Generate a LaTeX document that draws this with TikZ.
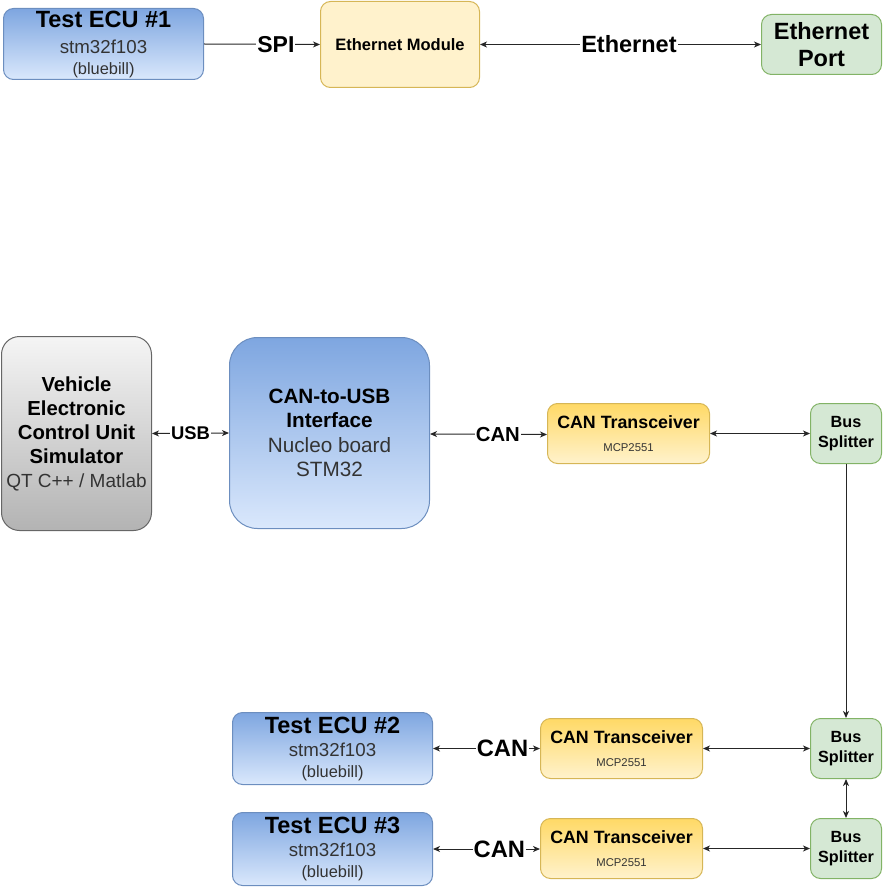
\documentclass[tikz,border=0pt]{standalone}
\usepackage{fontspec}
\setmainfont{Liberation Sans}
\usetikzlibrary{arrows.meta}
\definecolor{bluetop}{HTML}{7EA6E0}
\definecolor{bluebot}{HTML}{DAE8FC}
\definecolor{bluestroke}{HTML}{6C8EBF}
\definecolor{graytop}{HTML}{F5F5F5}
\definecolor{graybot}{HTML}{B3B3B3}
\definecolor{graystroke}{HTML}{666666}
\definecolor{yeltop}{HTML}{FFD966}
\definecolor{yelbot}{HTML}{FFF2CC}
\definecolor{yelfill}{HTML}{FFF2CC}
\definecolor{yelstroke}{HTML}{D6B656}
\definecolor{grnfill}{HTML}{D5E8D4}
\definecolor{grnstroke}{HTML}{82B366}
\definecolor{subtext}{HTML}{333333}
\newcommand{\fs}[1]{\fontsize{#1}{#1}\selectfont}
\tikzset{
  box/.style={anchor=north west, inner sep=0pt, align=center, line width=1pt, rounded corners=10pt},
  bskip/.style={font=\fontsize{10}{#1}\selectfont},
  bluebox/.style={box, draw=bluestroke, top color=bluetop, bottom color=bluebot},
  graybox/.style={box, draw=graystroke, top color=graytop, bottom color=graybot},
  yelbox/.style={box, draw=yelstroke, top color=yeltop, bottom color=yelbot},
  yelplain/.style={box, draw=yelstroke, fill=yelfill},
  grnbox/.style={box, draw=grnstroke, fill=grnfill},
  conn/.style={line width=1pt, draw=black!85, -{Stealth[length=7pt,width=6pt,inset=2pt]}},
  biconn/.style={line width=1pt, draw=black!85, {Stealth[length=7pt,width=6pt,inset=2pt]}-{Stealth[length=7pt,width=6pt,inset=2pt]}},
  lbl/.style={fill=white, inner sep=1pt, font=\bfseries}
}
\begin{document}
\begin{tikzpicture}[x=1pt,y=-1pt]
\useasboundingbox (0,0) rectangle (893,896);
% top row
\node[bluebox, bskip=21, minimum width=200, minimum height=71] (ecu1) at (3,8)
  {{\fs{23.5}\bfseries Test ECU \#1}\\[5pt]{\fs{18.7}\color{subtext}stm32f103}\\{\fs{16.4}\color{subtext}(bluebill)}};
\node[yelplain, minimum width=159, minimum height=86] (eth) at (320,1)
  {\fs{16.5}\bfseries Ethernet Module};
\node[grnbox, bskip=27, minimum width=120, minimum height=60] (port) at (761,14)
  {{\fs{23.5}\bfseries Ethernet}\\{\fs{23.5}\bfseries Port}};
\draw[conn] (ecu1.east) -- node[lbl, pos=0.62]{\fs{23}SPI} (eth.west);
\draw[biconn] (eth.east) -- node[lbl, pos=0.53]{\fs{23.5}Ethernet} (port.west);
% middle row
\node[graybox, bskip=24, rounded corners=18pt, minimum width=150, minimum height=194] (sim) at (1,336)
  {{\fs{20.3}\bfseries Vehicle}\\{\fs{20.3}\bfseries Electronic}\\{\fs{20.3}\bfseries Control Unit}\\{\fs{20.3}\bfseries Simulator}\\{\fs{19}\color{subtext}QT C++ / Matlab}};
\node[bluebox, bskip=24.5, rounded corners=28pt, minimum width=200, minimum height=191] (usb) at (229,337)
  {{\fs{20.7}\bfseries CAN-to-USB}\\{\fs{20.7}\bfseries Interface}\\{\fs{20.7}\color{subtext}Nucleo board}\\{\fs{20.7}\color{subtext}STM32}};
\node[yelbox, bskip=23, minimum width=162, minimum height=60] (tr1) at (547,403)
  {{\fs{17.8}\bfseries CAN Transceiver}\\{\fs{11.3}\color{subtext}MCP2551}};
\node[grnbox, bskip=20, minimum width=71, minimum height=60] (bs1) at (810,403)
  {{\fs{16.2}\bfseries Bus}\\{\fs{16.2}\bfseries Splitter}};
\draw[biconn] (sim.east) -- node[lbl]{\fs{18.4}USB} (usb.west);
\draw[biconn] ([yshift=-1pt]usb.east) -- node[lbl, pos=0.58]{\fs{20.3}CAN} ([yshift=-1pt]tr1.west);
\draw[biconn] (tr1.east) -- (bs1.west);
% bottom rows
\node[bluebox, bskip=21, minimum width=200, minimum height=72] (ecu2) at (232,712)
  {{\fs{23.5}\bfseries Test ECU \#2}\\[2pt]{\fs{18.7}\color{subtext}stm32f103}\\{\fs{16.4}\color{subtext}(bluebill)}};
\node[yelbox, bskip=23, minimum width=162, minimum height=60] (tr2) at (540,718)
  {{\fs{17.8}\bfseries CAN Transceiver}\\{\fs{11.3}\color{subtext}MCP2551}};
\node[grnbox, bskip=20, minimum width=71, minimum height=60] (bs2) at (810,718)
  {{\fs{16.2}\bfseries Bus}\\{\fs{16.2}\bfseries Splitter}};
\node[bluebox, bskip=21, minimum width=200, minimum height=73] (ecu3) at (232,812)
  {{\fs{23.5}\bfseries Test ECU \#3}\\[2pt]{\fs{18.7}\color{subtext}stm32f103}\\{\fs{16.4}\color{subtext}(bluebill)}};
\node[yelbox, bskip=23, minimum width=162, minimum height=60] (tr3) at (540,818)
  {{\fs{17.8}\bfseries CAN Transceiver}\\{\fs{11.3}\color{subtext}MCP2551}};
\node[grnbox, bskip=20, minimum width=71, minimum height=60] (bs3) at (810,818)
  {{\fs{16.2}\bfseries Bus}\\{\fs{16.2}\bfseries Splitter}};
\draw[conn] (bs1.south) -- (bs2.north);
\draw[biconn] (bs2.south) -- (bs3.north);
\draw[biconn] (ecu2.east) -- node[lbl, pos=0.65]{\fs{23.7}CAN} (tr2.west);
\draw[biconn] (tr2.east) -- (bs2.west);
\draw[biconn] (ecu3.east) -- node[lbl, pos=0.62]{\fs{23.7}CAN} ([yshift=-0.5pt]tr3.west);
\draw[biconn] (tr3.east) -- (bs3.west);
\end{tikzpicture}
\end{document}
